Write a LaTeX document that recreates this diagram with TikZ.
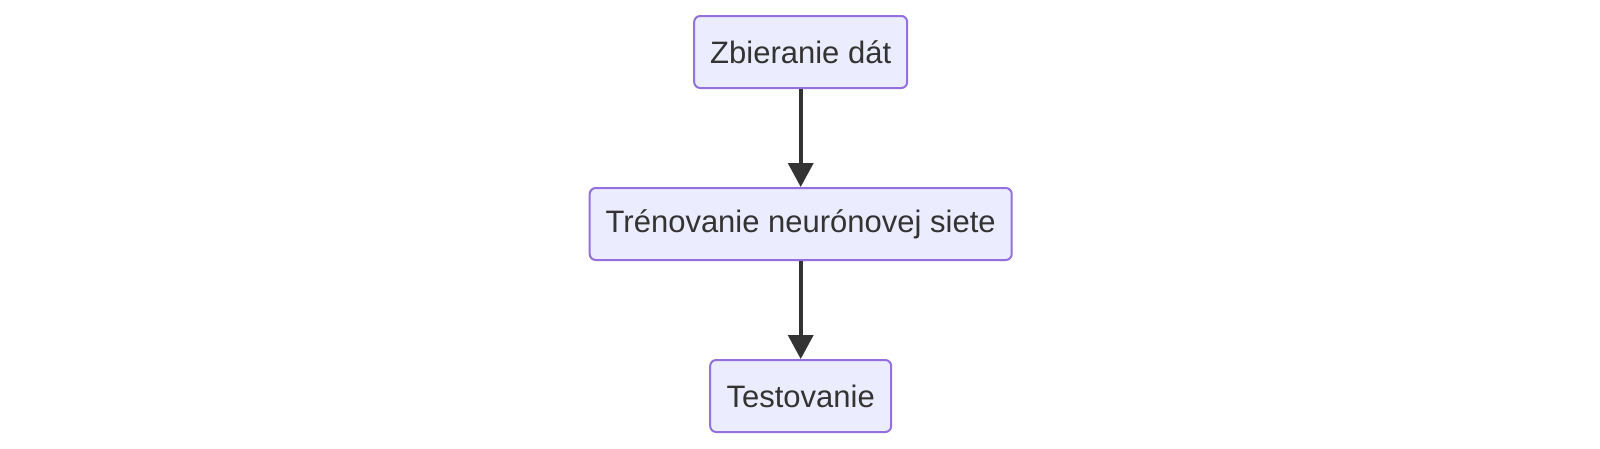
\documentclass[tikz,border=0pt]{standalone}
\usepackage{fontspec}
\setmainfont{Liberation Sans}
\usetikzlibrary{arrows.meta}
\definecolor{nodefill}{HTML}{ECECFF}
\definecolor{nodedraw}{HTML}{9370DB}
\definecolor{ink}{HTML}{333333}
\tikzset{
  flowbox/.style={draw=nodedraw, fill=nodefill, line width=2pt, rounded corners=6pt,
    minimum height=72pt, inner sep=0pt, text=ink, font=\fontsize{31}{37}\selectfont},
  flowarrow/.style={draw=ink, line width=3.6pt, -{Triangle[width=25pt,length=24pt]}}
}
\begin{document}
\begin{tikzpicture}[x=1pt,y=-1pt]
\fill[white] (0,0) rectangle (1600,448);
\useasboundingbox (0,0) rectangle (1600,448);
\node[flowbox, minimum width=213pt] (a) at (800.7,52) {Zbieranie dát};
\node[flowbox, minimum width=422pt] (b) at (800.7,224) {Trénovanie neurónovej siete};
\node[flowbox, minimum width=181pt] (c) at (800.7,396) {Testovanie};
\draw[flowarrow] (a.south) -- (b.north);
\draw[flowarrow] (b.south) -- (c.north);
\end{tikzpicture}
\end{document}
